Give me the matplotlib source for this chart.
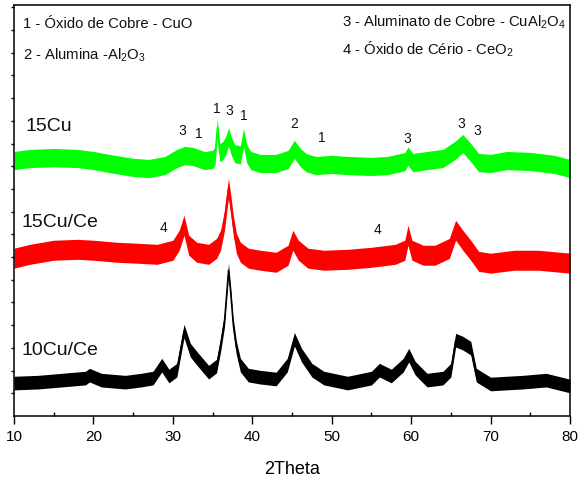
"""XRD patterns of 15Cu, 15Cu/Ce and 10Cu/Ce, stacked with vertical offsets."""
import matplotlib
matplotlib.use("Agg")
import matplotlib.pyplot as plt

plt.rcParams["font.family"] = ["Liberation Sans", "DejaVu Sans"]
plt.rcParams["mathtext.default"] = "regular"

# -- data (y in offset axis units) ---------------------------------------------
# noisy traces are kept as a centre line plus the half-width of the noise band
tth_15cu = [10, 12, 15, 18, 20, 22, 25, 27, 29, 30.5, 31.5, 32.5, 34, 35, 35.3,
            35.6, 35.9, 36.3, 36.7, 37.0, 37.4, 37.8, 38.5, 38.9, 39.3, 39.8,
            41, 43, 44.5, 45.3, 46.0, 46.8, 48, 50, 52, 55, 57, 59.2, 59.6,
            60.2, 62, 64, 65.5, 66.5, 67.5, 68.5, 70, 72, 75, 78, 80]
int_15cu = [11.25, 11.34, 11.38, 11.34, 11.25, 11.12, 10.95, 10.90, 11.03,
            11.34, 11.47, 11.43, 11.25, 11.30, 11.45, 12.70, 11.60, 11.69,
            11.95, 12.30, 11.85, 11.55, 11.50, 12.26, 11.55, 11.25, 11.12,
            11.12, 11.30, 11.74, 11.40, 11.15, 11.03, 11.08, 11.03, 10.99,
            11.03, 11.20, 11.45, 11.16, 11.25, 11.34, 11.69, 12.00, 11.60,
            11.16, 11.12, 11.25, 11.21, 11.08, 10.90]
hw_15cu = 0.40

tth_15cuce = [10, 12, 15, 18, 20, 23, 26, 28, 30, 30.8, 31.4, 32.0, 33, 34.5,
              35.5, 36.0, 36.5, 36.8, 37.0, 37.3, 37.6, 38.0, 38.5, 39.5, 41,
              43, 44.5, 45.1, 45.8, 47, 49, 52, 55, 58, 59.2, 59.6, 60.1, 61.5,
              63, 64.8, 65.6, 66.5, 67.5, 68.5, 70, 73, 76, 80]
int_15cuce = [6.95, 7.12, 7.30, 7.34, 7.30, 7.21, 7.16, 7.12, 7.30, 7.74,
              8.40, 7.52, 7.21, 7.12, 7.38, 7.74, 8.62, 9.49, 10.02, 9.27,
              8.40, 7.60, 7.21, 6.95, 6.86, 6.77, 7.08, 7.74, 7.30, 6.95,
              6.86, 6.90, 6.99, 7.12, 7.30, 7.96, 7.30, 7.08, 7.08, 7.38,
              8.18, 7.74, 7.30, 6.81, 6.73, 6.86, 6.86, 6.73]
hw_15cuce = 0.44

tth_10cuce = [10, 13, 16, 19, 19.5, 21, 24, 26, 27.5, 28.6, 29.5, 30.5, 31.4,
              32.2, 33, 34.5, 35.5, 36.0, 36.5, 36.8, 37.0, 37.3, 37.6, 38.0,
              38.5, 39.5, 41, 43, 44.4, 45.3, 46.2, 47.5, 49, 52, 55, 56,
              57.5, 59.0, 59.7, 60.5, 62, 64, 65, 65.6, 66.5, 67.5, 68.2, 70,
              74, 77, 80]
int_10cuce = [1.45, 1.49, 1.58, 1.67, 1.80, 1.58, 1.49, 1.58, 1.67, 2.24,
              1.76, 2.02, 3.74, 2.90, 2.55, 1.93, 2.20, 3.12, 4.22, 5.54,
              6.42, 5.32, 4.00, 2.99, 2.24, 1.80, 1.71, 1.63, 2.24, 3.38,
              2.68, 2.02, 1.67, 1.45, 1.67, 2.02, 1.76, 2.24, 2.68, 2.11,
              1.58, 1.67, 2.02, 3.34, 3.21, 2.99, 1.80, 1.41, 1.49, 1.58, 1.32]
hw_10cuce = 0.30

sample_names = ["15Cu", "15Cu/Ce", "10Cu/Ce"]
sample_label_pos = [(11.4, 12.75), (11.0, 8.53), (11.0, 2.90)]

# phase markers: (label, 2theta, y)
peak_marks = [("3", 31.16, 12.57), ("1", 33.30, 12.40), ("1", 35.57, 13.54),
              ("3", 37.08, 13.45), ("1", 38.97, 13.19), ("2", 45.26, 12.84),
              ("1", 48.79, 12.26), ("3", 59.50, 12.22), ("3", 66.30, 12.88),
              ("3", 68.31, 12.57), ("4", 28.77, 8.26), ("4", 55.72, 8.18)]

phase_legend = ["1 - Óxido de Cobre - CuO",
                "2 - Alumina -Al$_2$O$_3$",
                "3 - Aluminato de Cobre - CuAl$_2$O$_4$",
                "4 - Óxido de Cério - CeO$_2$"]

# -- plot ----------------------------------------------------------------------
fig = plt.figure(figsize=(5.79, 4.79), dpi=100)
ax = fig.add_axes([0.0242, 0.1315, 0.9603, 0.8581])

series = [(tth_15cu, int_15cu, hw_15cu, "#00ff00"),
          (tth_15cuce, int_15cuce, hw_15cuce, "#ff0000"),
          (tth_10cuce, int_10cuce, hw_10cuce, "#000000")]
for tth, inten, hw, col in series:
    lo = [v - hw for v in inten]
    hi = [v + hw for v in inten]
    ax.fill_between(tth, lo, hi, color=col, lw=0)
    ax.plot(tth, inten, color=col, lw=1.0)

for name, (x, y) in zip(sample_names, sample_label_pos):
    ax.text(x, y, name, fontsize=14, ha="left", va="center", color="#111111")

for lab, x, y in peak_marks:
    ax.text(x, y, lab, fontsize=10, ha="center", va="center", color="#111111")

# legend block, positions in axes fraction
legend_pos = [(0.016, 0.954), (0.016, 0.878), (0.59, 0.959), (0.59, 0.893)]
for txt, (x, y) in zip(phase_legend, legend_pos):
    ax.text(x, y, txt, transform=ax.transAxes, fontsize=10.7, ha="left",
            va="center", color="#111111")

ax.set_xlim(10, 80)
ax.set_ylim(0, 18.1)
ax.set_xticks(range(10, 81, 10))
ax.set_xticks(range(15, 80, 10), minor=True)
ax.set_yticks(range(1, 19))
ax.set_yticklabels([])
ax.tick_params(axis="x", which="major", direction="out", length=6, width=1,
               labelsize=11, pad=4)
ax.tick_params(axis="x", which="minor", direction="in", length=3, width=1)
ax.tick_params(axis="y", which="major", direction="out", length=2.5, width=1)
ax.set_xlabel("2Theta", fontsize=13, labelpad=12)
for sp in ax.spines.values():
    sp.set_linewidth(1.1)

fig.savefig("out.png", dpi=100)
